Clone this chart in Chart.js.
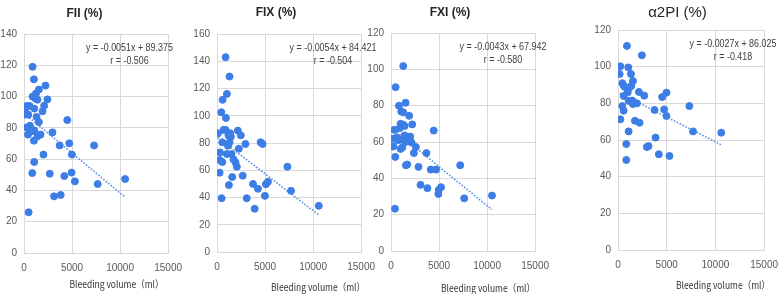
<!DOCTYPE html>
<html>
<head>
<meta charset="utf-8">
<script src="https://cdn.jsdelivr.net/npm/chart.js@4.4.0/dist/chart.umd.min.js"></script>
<style>
  html, body { margin: 0; padding: 0; background: #fff; width: 778px; height: 294px; overflow: hidden; }
  body { position: relative; }
  .panel { position: absolute; top: 0; height: 294px; }
</style>
</head>
<body>
<div class="panel" id="p0"><canvas id="c0"></canvas></div>
<div class="panel" id="p1"><canvas id="c1"></canvas></div>
<div class="panel" id="p2"><canvas id="c2"></canvas></div>
<div class="panel" id="p3"><canvas id="c3"></canvas></div>
<script>
// bleeding volume (ml) vs factor activity (%)
const volumeTicks = [0, 5000, 10000, 15000];
const xAxisLabel = 'Bleeding volume（ml）';

const fiiVolume = [894, 1032, 2236, 1548, 1250, 894, 1150, 1400, 2442, 275, 150, 585, 1066, 2098, 1926, 50, 447, 1307, 1548, 4506, 620, 275, 1066, 791, 2958, 413, 1720, 1410, 1032, 3715, 4713, 7293, 4988, 2030, 1066, 860, 2683, 4954, 4197, 5298, 7671, 10526, 3130, 3818, 482];
const fiiLevel  = [119, 111, 107, 104.5, 102, 100, 99, 98, 98.2, 94, 92.5, 94, 92.3, 94.2, 90.6, 88.5, 88.4, 87, 83.7, 85, 81.4, 80.3, 78.4, 77.8, 77.1, 75.7, 75.7, 74.6, 71.8, 68.8, 70.1, 68.8, 62.9, 62.9, 58.2, 51.1, 50.7, 51.4, 49.2, 45.8, 44.1, 47.3, 36.2, 37.1, 26];

const fixVolume = [894, 1307, 1032, 585, 447, 929, 103, 688, 894, 1376, 2167, 2477, 1444, 550, 1307, 4541, 4747, 2958, 1135, 2270, 310, 1032, 1513, 1720, 275, 550, 1926, 2064, 7327, 275, 1582, 2683, 3750, 1238, 5091, 5298, 4266, 7706, 4988, 482, 3096, 3922, 10595, 1200];
const fixLevel  = [143, 128.8, 116, 111.7, 102.6, 98.4, 87.1, 89.6, 89.6, 87.1, 89.1, 85.6, 84.7, 80.5, 80.5, 80.5, 79.3, 79.3, 78, 75.8, 73.1, 71.9, 71.9, 68, 67.5, 66, 65.8, 62.6, 62.6, 58.2, 55, 56, 50, 49.1, 49.8, 51.5, 46.4, 44.9, 41.2, 39.5, 39.5, 31.7, 33.9, 85.5];

const fxiVolume = [1276, 483, 1517, 828, 1069, 1276, 1896, 1000, 1138, 1276, 1414, 2207, 345, 897, 4448, 103, 586, 1414, 2000, 2138, 1103, 241, 1000, 1172, 2586, 2379, 3690, 448, 1552, 1690, 2862, 7207, 4138, 4690, 3069, 3793, 5207, 4965, 4931, 7621, 10517, 414, 700, 1500];
const fxiLevel  = [101.8, 90.2, 81.6, 80, 76.8, 76.3, 74.4, 70, 69, 69.5, 68.8, 69.7, 66.7, 67.6, 66.3, 61.8, 62.5, 63.6, 63, 59.7, 61.2, 57.5, 56.2, 57, 57.2, 53.9, 53.9, 51.8, 47.2, 47.6, 46.3, 47.2, 44.8, 44.8, 36.4, 34.6, 35.1, 33.6, 31.4, 29, 30.5, 23.3, 61, 60];

const a2piVolume = [920, 2454, 239, 1057, 170, 1330, 1534, 443, 600, 784, 1193, 1364, 2148, 4977, 1000, 580, 2693, 4534, 1091, 1466, 1534, 1943, 7329, 443, 580, 3750, 4739, 4977, 239, 1739, 2216, 7704, 10602, 1091, 3852, 852, 3136, 2966, 4193, 5284, 852];
const a2piLevel  = [111.3, 106.2, 100.2, 99.6, 96, 96, 92.2, 91, 89.5, 88.7, 88.7, 89.5, 86.2, 85.8, 86, 84, 84.2, 83.4, 81.3, 81.5, 79.6, 80, 78.5, 78.5, 76, 76.4, 76.7, 73.1, 71.3, 70.5, 69.4, 64.7, 64, 64.7, 61.3, 57.8, 56.7, 56.2, 52.2, 51.3, 49.1];

// regression lines as printed on the figure
const fiiFit  = { slope: -0.0051, intercept: 89.375, r: '-0.506' };
const fixFit  = { slope: -0.0054, intercept: 84.421, r: '-0.504' };
const fxiFit  = { slope: -0.0043, intercept: 67.942, r: '-0.580' };
const a2piFit = { slope: -0.0027, intercept: 86.025, r: '-0.418' };

const BLUE = '#3d7de6';
const TREND = '#5b90e8';
const GRID = '#d9d9d9';
const TICK = '#595959';
const SANS = '"Liberation Sans", Arial, sans-serif';
const CJK = '"Noto Sans CJK JP", "Liberation Sans", sans-serif';

const panels = [
  { title: 'FII (%)', bold: true, xs: fiiVolume, ys: fiiLevel, fit: fiiFit, yMax: 140,
    left: 0, plotLeft: 24, plotRight: 169, plotTop: 34, plotBottom: 253, titleY: 14, eqX: 129.5, xTitleX: 116.5, xTitleY: 284 },
  { title: 'FIX (%)', bold: true, xs: fixVolume, ys: fixLevel, fit: fixFit, yMax: 160,
    left: 190, plotLeft: 217, plotRight: 362, plotTop: 34, plotBottom: 252, titleY: 13, eqX: 333, xTitleX: 318, xTitleY: 287 },
  { title: 'FXI (%)', bold: true, xs: fxiVolume, ys: fxiLevel, fit: fxiFit, yMax: 120,
    left: 364, plotLeft: 391, plotRight: 536, plotTop: 33, plotBottom: 251, titleY: 13, eqX: 503, xTitleX: 488, xTitleY: 288 },
  { title: 'α2PI (%)', bold: false, xs: a2piVolume, ys: a2piLevel, fit: a2piFit, yMax: 120,
    left: 590, plotLeft: 618, plotRight: 765, plotTop: 30, plotBottom: 250, titleY: 13, eqX: 733, xTitleX: 723, xTitleY: 285 }
];

panels.forEach((p, i) => {
  const padRight = 22;
  const width = p.plotRight - p.left + padRight;
  const box = document.getElementById('p' + i);
  box.style.left = p.left + 'px';
  box.style.width = width + 'px';

  const points = p.xs.map((x, k) => ({ x, y: p.ys[k] }));
  const xMin = Math.min(...p.xs), xMax = Math.max(...p.xs);
  const trend = [xMin, xMax].map(x => ({ x, y: p.fit.slope * x + p.fit.intercept }));

  const titleSize = p.bold ? 12 : 15;
  const titleLH = titleSize * 1.2;

  // equation, r and the x-axis caption (office font is narrower, so squeeze a bit)
  const annotations = {
    id: 'annotations',
    afterDraw(chart) {
      const a = chart.chartArea;
      const ctx = chart.ctx;
      const cx = p.eqX - p.left;
      const line1 = 'y = ' + p.fit.slope + 'x + ' + p.fit.intercept;
      const line2 = 'r = ' + p.fit.r;
      ctx.save();
      ctx.font = '10.5px ' + SANS;
      ctx.fillStyle = '#404040';
      ctx.textAlign = 'center';
      ctx.textBaseline = 'middle';
      const squeeze = 0.85;
      ctx.fillText(line1, cx, a.top + 14, ctx.measureText(line1).width * squeeze);
      ctx.fillText(line2, cx, a.top + 27, ctx.measureText(line2).width * squeeze);

      ctx.font = '10px ' + CJK;
      ctx.fillStyle = '#333333';
      const w = ctx.measureText(xAxisLabel).width;
      ctx.fillText(xAxisLabel, p.xTitleX - p.left, p.xTitleY, Math.min(w, 94));
      ctx.restore();
    }
  };

  new Chart(document.getElementById('c' + i), {
    type: 'scatter',
    data: {
      datasets: [
        {
          data: points,
          backgroundColor: BLUE,
          borderColor: BLUE,
          pointRadius: 3.5,
          pointHoverRadius: 3.5
        },
        {
          type: 'line',
          data: trend,
          borderColor: TREND,
          borderWidth: 1.6,
          borderDash: [1.6, 1.6],
          pointRadius: 0,
          fill: false
        }
      ]
    },
    options: {
      responsive: true,
      maintainAspectRatio: false,
      animation: false,
      layout: { padding: { left: 0, top: 0, bottom: 0, right: padRight } },
      plugins: {
        legend: { display: false },
        tooltip: { enabled: false },
        title: {
          display: true,
          text: p.title,
          color: '#262626',
          font: { size: titleSize, weight: p.bold ? 'bold' : 'normal', family: SANS, lineHeight: 1.2 },
          padding: { top: p.titleY - titleLH / 2, bottom: p.plotTop - p.titleY - titleLH / 2 }
        }
      },
      scales: {
        x: {
          type: 'linear',
          min: 0,
          max: 15000,
          afterBuildTicks: s => { s.ticks = volumeTicks.map(v => ({ value: v })); },
          afterFit: s => { s.height = 294 - p.plotBottom; },
          grid: { color: GRID, drawTicks: false },
          border: { color: GRID },
          ticks: { color: TICK, padding: 9, maxRotation: 0, callback: v => String(v), font: { size: 10, family: SANS } }
        },
        y: {
          min: 0,
          max: p.yMax,
          afterFit: s => { s.width = p.plotLeft - p.left; },
          grid: { color: GRID, drawTicks: false },
          border: { color: GRID },
          ticks: { stepSize: 20, color: TICK, padding: 7, callback: v => String(v), font: { size: 10, family: SANS } }
        }
      }
    },
    plugins: [annotations]
  });
});
</script>
</body>
</html>
